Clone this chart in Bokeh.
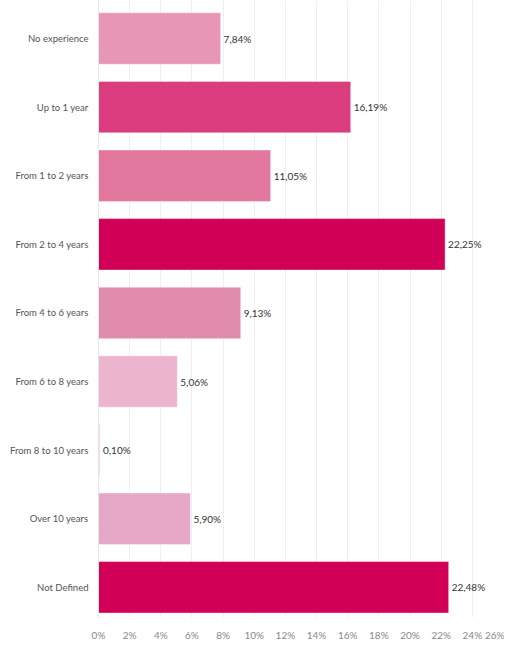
from bokeh.plotting import figure
from bokeh.models import ColumnDataSource, Range1d, FixedTicker, LabelSet
from bokeh.core.properties import value
from bokeh.embed import file_html
from bokeh.resources import INLINE

categories = ["No experience", "Up to 1 year", "From 1 to 2 years", "From 2 to 4 years",
              "From 4 to 6 years", "From 6 to 8 years", "From 8 to 10 years",
              "Over 10 years", "Not Defined"]
values = [7.84, 16.19, 11.05, 22.25, 9.13, 5.06, 0.10, 5.90, 22.48]
colors = ["#E797B5", "#DB3C7E", "#E2779D", "#D10056", "#E18BAD", "#ECB5CE", "#F3D3E2",
          "#E6A8C7", "#D10056"]
x_ticks = list(range(0, 27, 2))

pos = list(range(len(categories)))
labels = [("%.2f%%" % v).replace(".", ",") for v in values]
src = ColumnDataSource(dict(y=pos, v=values, c=colors, lab=labels))

p = figure(frame_width=405, frame_height=617, output_backend="svg", toolbar_location=None,
           x_range=Range1d(0, 26), y_range=Range1d(8.44, -0.554),
           min_border_left=98, min_border_right=1, min_border_top=0, min_border_bottom=16)
p.outline_line_color = None
p.background_fill_color = "white"

p.hbar(y="y", right="v", left=0, height=0.75, source=src, fill_color="c",
       line_color="white", line_alpha=0.4, line_width=1)

ls = LabelSet(x="v", y="y", text="lab", source=src, x_offset=3, y_offset=0,
              text_baseline="middle", text_font_size="10px", text_color="#333333",
              text_font=value("Lato"))
p.add_layout(ls)

p.xaxis.ticker = FixedTicker(ticks=x_ticks)
p.xaxis.major_label_overrides = {t: "%d%%" % t for t in x_ticks}
p.xaxis.axis_line_color = None
p.xaxis.major_tick_line_color = None
p.xaxis.minor_tick_line_color = None
p.xaxis.major_label_standoff = 5
p.xaxis.major_label_text_font_size = "10px"
p.xaxis.major_label_text_color = "#888888"
p.xaxis.major_label_text_font = "Lato"

p.yaxis.ticker = FixedTicker(ticks=pos)
p.yaxis.major_label_overrides = {i: c for i, c in enumerate(categories)}
p.yaxis.axis_line_color = "#E6E6E6"
p.yaxis.major_tick_line_color = None
p.yaxis.minor_tick_line_color = None
p.yaxis.major_label_standoff = 4
p.yaxis.major_label_text_font_size = "9.5px"
p.yaxis.major_label_text_color = "#555555"
p.yaxis.major_label_text_font = "Lato"

p.ygrid.grid_line_color = None
p.xgrid.grid_line_color = "#EFEFEF"
p.xgrid.ticker = FixedTicker(ticks=x_ticks)

open("out.html", "w").write(file_html(p, INLINE))
